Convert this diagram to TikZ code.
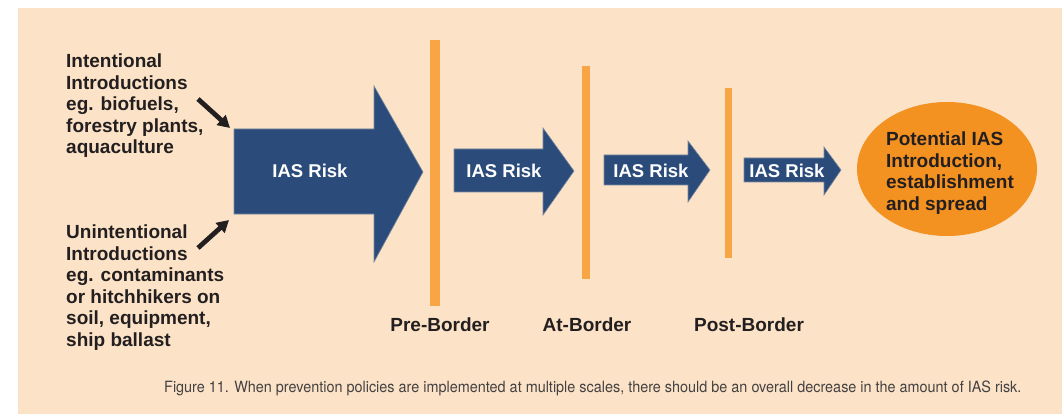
\documentclass[tikz,border=0pt]{standalone}
\usepackage{fontspec}
\setmainfont{Liberation Sans}
\newfontfamily\capfont[FakeStretch=0.93]{TeX Gyre Heros}
\usetikzlibrary{arrows.meta,shapes.geometric}

\definecolor{bgpeach}{RGB}{252,227,199}
\definecolor{riskblue}{RGB}{43,76,122}
\definecolor{riskedge}{RGB}{120,135,160}
\definecolor{barorange}{RGB}{247,165,69}
\definecolor{goalorange}{RGB}{243,145,33}
\definecolor{inkdark}{RGB}{35,31,32}

\tikzset{
  bigtext/.style={font=\bfseries\fontsize{19}{21.5}\selectfont, text=inkdark, inner sep=0pt},
  risktext/.style={font=\bfseries\fontsize{18.5}{21}\selectfont, text=white, inner sep=0pt},
  riskarrow/.style={fill=riskblue, draw=riskedge, line width=0.6pt},
  borderbar/.style={fill=barorange},
  feedarrow/.style={-{Triangle[length=12pt,width=13pt]}, line width=4.8pt, inkdark}
}

\begin{document}
\begin{tikzpicture}[x=1pt,y=-1pt]
                    \useasboundingbox (0,0) rectangle (1062,414);
                    \fill[white] (0,0) rectangle (1062,414);
                    \fill[bgpeach] (18,8) rectangle (1062,414);

                    % pathways in
                    \node[bigtext, anchor=north west, align=left] (intent) at (66,54)
                        {Intentional\\Introductions\\eg. biofuels,\\forestry plants,\\aquaculture};
                    \node[bigtext, anchor=north west, align=left] (unintent) at (66,225)
                        {Unintentional\\Introductions\\eg. contaminants\\or hitchhikers on\\soil, equipment,\\ship ballast};

                    \coordinate (A1) at (198,99);
                    \coordinate (A2) at (230,128);
                    \coordinate (B1) at (198,248);
                    \coordinate (B2) at (229,220);
                    \draw[feedarrow] (A1) -- (A2);
                    \draw[feedarrow] (B1) -- (B2);

                    % risk arrows
                    \fill[riskarrow] (234,129) -- (374,129) -- (374,86) -- (423,172) -- (374,262) -- (374,214) -- (234,214) -- cycle;
                    \node[risktext] (risk1) at (310,171) {IAS Risk};

                    \fill[riskarrow] (454,149) -- (543,149) -- (543,128) -- (574,171) -- (543,215) -- (543,192) -- (454,192) -- cycle;
                    \node[risktext] (risk2) at (504,171) {IAS Risk};

                    \fill[riskarrow] (604,155) -- (688,155) -- (688,141) -- (710,170) -- (688,202) -- (688,185) -- (604,185) -- cycle;
                    \node[risktext] (risk3) at (651,171) {IAS Risk};

                    \fill[riskarrow] (744,158) -- (824,158) -- (824,147) -- (841,170) -- (824,195) -- (824,182) -- (744,182) -- cycle;
                    \node[risktext] (risk4) at (787,171) {IAS Risk};

                    % borders
                    \fill[borderbar] (430,40) rectangle (440,306);
                    \fill[borderbar] (582,66) rectangle (590,279);
                    \fill[borderbar] (725,88) rectangle (732,258);

                    \node[bigtext] (pre) at (440,325) {Pre-Border};
                    \node[bigtext] (at) at (587,325) {At-Border};
                    \node[bigtext] (post) at (749,325) {Post-Border};

                    % outcome
                    \node[ellipse, fill=goalorange, minimum width=180pt, minimum height=134pt] (goal) at (947,169) {};
                    \node[bigtext, align=left] (goaltext) at (950,173)
                        {Potential IAS\\Introduction,\\establishment\\and spread};

                    \node[anchor=west, inner sep=0pt, text=inkdark!85, font=\capfont\fontsize{15.5}{17}\selectfont] (caption) at (164,388)
                        {Figure 11. When prevention policies are implemented at multiple scales, there should be an overall decrease in the amount of IAS risk.};
\end{tikzpicture}
\end{document}
